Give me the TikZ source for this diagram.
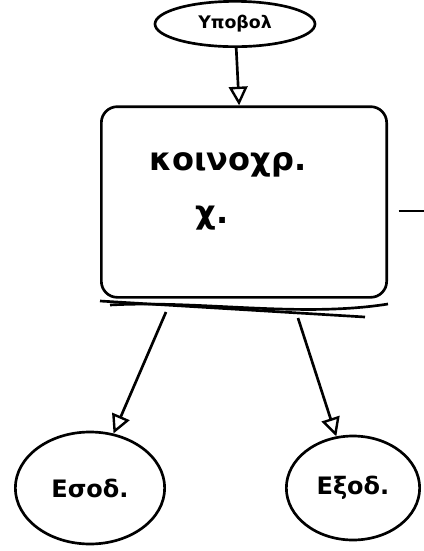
\documentclass[tikz,border=0pt]{standalone}
\usepackage{fontspec}
\setmainfont{DejaVu Sans}
\usetikzlibrary{arrows.meta,shapes.geometric}

\begin{document}
\begin{tikzpicture}[x=0.75pt,y=-0.75pt,line width=2pt,
  every node/.style={font=\bfseries},
  tip/.style={-{Triangle[open,length=14pt,width=14pt,line width=1.8pt]}}]
\useasboundingbox (0,0) rectangle (424,551);
\node (sub) at (235,24) [ellipse,draw,minimum width=120,minimum height=34,inner sep=0pt,font=\bfseries\fontsize{13}{15}\selectfont] {Υποβολ};
\node (box) at (244,202) [draw,rounded corners=12pt,minimum width=214pt,minimum height=143pt] {};
\node (t1) at (228,165) [font=\bfseries\fontsize{24}{28}\selectfont] {κοινοχρ.};
\node (t2) at (212,218) [font=\bfseries\fontsize{24}{28}\selectfont] {χ.};
\node (in) at (90,488) [ellipse,draw,minimum width=112pt,minimum height=84pt,font=\bfseries\fontsize{18}{22}\selectfont] {Εσοδ.};
\node (ex) at (353,488) [ellipse,draw,minimum width=100pt,minimum height=78pt,font=\bfseries\fontsize{18}{22}\selectfont] {Εξοδ.};
\coordinate (out) at (424,211);
\coordinate (bl) at (166,312);
\coordinate (br) at (298,318);
\draw [tip] (sub) -- (box);
\draw [shorten <=8pt] (box.east |- out) -- (out);
\draw (100,301) -- (365,317);
\draw (110,305) .. controls (200,300) and (300,318) .. (388,304);
\draw [tip] (bl) -- (in);
\draw [tip] (br) -- (ex);
\end{tikzpicture}
\end{document}
